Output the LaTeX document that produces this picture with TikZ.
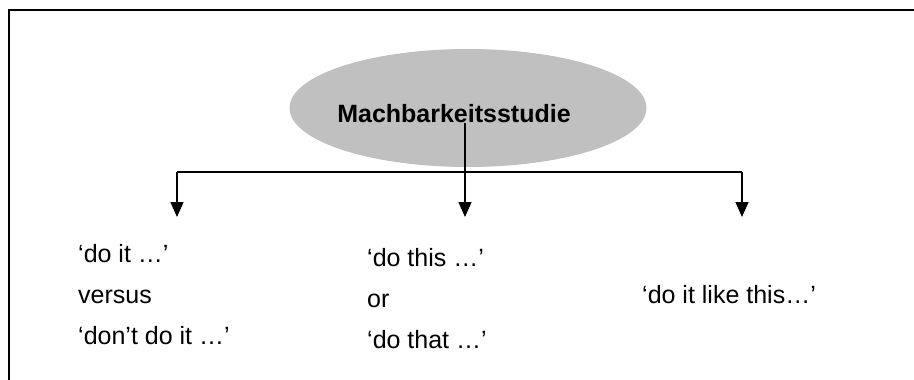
\documentclass[tikz,border=0pt]{standalone}
\usepackage{fontspec}
\setmainfont{Liberation Sans}
\usepackage{tikz}
\usetikzlibrary{arrows.meta,shapes.geometric,positioning}
\definecolor{ovalgray}{RGB}{192,192,192}
\tikzset{
  txt/.style={anchor=west, align=left, inner sep=0pt, font=\fontsize{25}{41}\selectfont},
  link/.style={line width=1.3pt, -{Triangle[width=13pt,length=15pt]}}
}
\begin{document}
\begin{tikzpicture}[x=1pt,y=-1pt]
                      \useasboundingbox (0,0) rectangle (914,380);
                      \draw[line width=1.8pt] (9,380) -- (9,10) -- (914,10);
                      \node[ellipse, fill=ovalgray, minimum width=357pt, minimum height=118pt, inner sep=0pt] (blob) at (468,108) {};
                      \node[inner sep=0pt, font=\fontsize{25}{30}\selectfont\bfseries] (studie) at (454,114) {Machbarkeitsstudie};
                      \node[txt] (doit) at (78,295) {`do it \ldots'\\versus\\`don't do it \ldots'};
                      \node[txt] (dothis) at (367,299) {`do this \ldots'\\or\\`do that \ldots'};
                      \node[txt] (likethis) at (642,295) {`do it like this\ldots'};
                      \coordinate (split) at (465,172);
                      \coordinate (tipL) at (177,217);
                      \coordinate (tipM) at (465,217);
                      \coordinate (tipR) at (742,217);
                      \draw[line width=1.3pt] (studie.south -| split) -- (split);
                      \draw[line width=1.3pt] (tipL |- split) -- (tipR |- split);
                      \draw[link] (tipL |- split) -- (tipL);
                      \draw[link] (split) -- (tipM);
                      \draw[link] (tipR |- split) -- (tipR);
                  \end{tikzpicture}
\end{document}
